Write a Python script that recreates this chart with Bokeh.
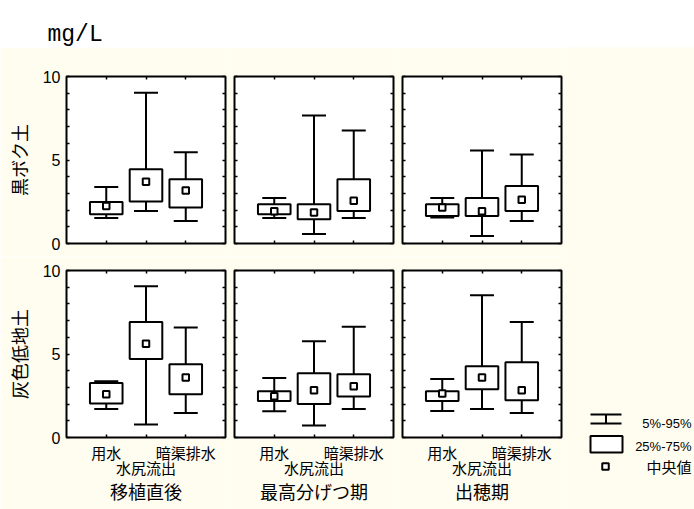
from bokeh.plotting import figure
from bokeh.models import Range1d, FixedTicker, LinearAxis, ColumnDataSource
from bokeh.layouts import row, column
from bokeh.embed import file_html
from bokeh.resources import INLINE
from bokeh.core.properties import value

# ---------------- data ----------------
unit_label = "mg/L"
periods = ["移植直後", "最高分げつ期", "出穂期"]
soils = ["黒ボク土", "灰色低地土"]
sites = ["用水", "水尻流出", "暗渠排水"]
site_pos = [1, 2, 3]

# 黒ボク土 : per period -> values for [用水, 水尻流出, 暗渠排水]
kuro_p95 = [[3.38, 9.03, 5.47], [2.72, 7.67, 6.76], [2.72, 5.57, 5.33]]
kuro_q75 = [[2.48, 4.45, 3.85], [2.35, 2.35, 3.85], [2.35, 2.72, 3.44]]
kuro_med = [[2.24, 3.70, 3.18], [1.93, 1.85, 2.56], [2.15, 1.93, 2.62]]
kuro_q25 = [[1.75, 2.52, 2.15], [1.75, 1.45, 1.95], [1.65, 1.65, 1.95]]
kuro_p5 = [[1.53, 1.95, 1.35], [1.53, 0.57, 1.53], [1.55, 0.45, 1.35]]

# 灰色低地土
kai_p95 = [[3.37, 9.06, 6.59], [3.56, 5.77, 6.63], [3.50, 8.52, 6.91]]
kai_q75 = [[3.27, 6.91, 4.38], [2.77, 3.84, 3.78], [2.77, 4.26, 4.50]]
kai_med = [[2.59, 5.62, 3.59], [2.47, 2.83, 3.07], [2.63, 3.59, 2.83]]
kai_q25 = [[2.03, 4.70, 2.59], [2.19, 2.01, 2.45], [2.19, 2.89, 2.23]]
kai_p5 = [[1.71, 0.78, 1.47], [1.57, 0.72, 1.71], [1.59, 1.71, 1.47]]

y_major = [0, 5, 10]
y_minor = [1, 2, 3, 4, 6, 7, 8, 9]

legend_labels = ["5%-95%", "25%-75%", "中央値"]

# ---------------- style ----------------
BG = "#FFFCF0"
JP = "Noto Sans CJK JP"
NUM = "Liberation Sans"

stats = {
    0: (kuro_p5, kuro_q25, kuro_med, kuro_q75, kuro_p95),
    1: (kai_p5, kai_q25, kai_med, kai_q75, kai_p95),
}


def hidden_axis(ax):
    ax.major_label_text_color = None
    ax.major_label_text_font_size = "1px"
    ax.major_label_standoff = 0
    return ax


def style_axis(ax):
    ax.axis_line_color = None
    ax.major_tick_in = 3
    ax.major_tick_out = 0
    ax.minor_tick_in = 3
    ax.minor_tick_out = 0
    ax.major_tick_line_width = 1.5
    ax.minor_tick_line_width = 1.5
    ax.major_tick_line_color = "black"
    ax.minor_tick_line_color = "black"
    return ax


def make_panel(si, pi):
    first_col = pi == 0
    bottom_row = si == 1
    f = figure(frame_width=159, frame_height=167,
               x_range=Range1d(0, 4), y_range=Range1d(0, 10),
               output_backend="svg", toolbar_location=None, title=None,
               x_axis_location=None, y_axis_location=None,
               min_border_left=66 if first_col else 5, min_border_right=4,
               min_border_top=29 if si == 0 else 14,
               min_border_bottom=13 if si == 0 else 72,
               background_fill_color="white", border_fill_color=BG,
               outline_line_color="black", outline_line_width=2)
    f.grid.visible = False

    p5, q25, med, q75, p95 = (s[pi] for s in stats[si])
    src = ColumnDataSource(dict(x=site_pos, p5=p5, q25=q25, med=med, q75=q75, p95=p95))

    f.segment(x0="x", y0="p5", x1="x", y1="p95", source=src, line_color="black", line_width=2)
    f.scatter(x="x", y="p95", source=src, marker="dash", size=24, line_color="black", line_width=2)
    f.scatter(x="x", y="p5", source=src, marker="dash", size=24, line_color="black", line_width=2)
    f.vbar(x="x", width=0.82, bottom="q25", top="q75", source=src,
           fill_color="white", line_color="black", line_width=2)
    f.scatter(x="x", y="med", source=src, marker="square", size=6.5,
              fill_color="white", line_color="black", line_width=2)

    # left axis
    la = style_axis(LinearAxis(ticker=FixedTicker(ticks=y_major, minor_ticks=y_minor)))
    if first_col:
        la.major_label_text_font = NUM
        la.major_label_text_font_size = "16px"
        la.major_label_text_color = "black"
        la.major_label_standoff = 6
        la.axis_label = soils[si]
        la.axis_label_text_font = JP
        la.axis_label_text_font_size = "18px"
        la.axis_label_text_font_style = "normal"
        la.axis_label_text_color = "black"
        la.axis_label_standoff = 8
    else:
        hidden_axis(la)
    f.add_layout(la, "left")

    ra = hidden_axis(style_axis(LinearAxis(ticker=FixedTicker(ticks=y_major, minor_ticks=y_minor))))
    f.add_layout(ra, "right")

    ta = hidden_axis(style_axis(LinearAxis(ticker=FixedTicker(ticks=site_pos, minor_ticks=[]))))
    f.add_layout(ta, "above")

    ba = style_axis(LinearAxis(ticker=FixedTicker(ticks=site_pos, minor_ticks=[])))
    if bottom_row:
        ba.major_label_overrides = {site_pos[0]: sites[0], site_pos[1]: " ", site_pos[2]: sites[2]}
        ba.major_label_text_font = JP
        ba.major_label_text_font_size = "15px"
        ba.major_label_text_color = "black"
        ba.major_label_standoff = 4
        f.add_layout(ba, "below")
        ba2 = LinearAxis(ticker=FixedTicker(ticks=[site_pos[1]], minor_ticks=[]))
        ba2.axis_line_color = None
        ba2.major_tick_in = 0
        ba2.major_tick_out = 0
        ba2.major_tick_line_color = None
        ba2.minor_tick_line_color = None
        ba2.major_label_overrides = {site_pos[1]: sites[1]}
        ba2.major_label_text_font = JP
        ba2.major_label_text_font_size = "15px"
        ba2.major_label_text_color = "black"
        ba2.major_label_standoff = -9
        ba2.axis_label = periods[pi]
        ba2.axis_label_text_font = JP
        ba2.axis_label_text_font_size = "18px"
        ba2.axis_label_text_font_style = "normal"
        ba2.axis_label_text_color = "black"
        ba2.axis_label_standoff = -3
        f.add_layout(ba2, "below")
    else:
        hidden_axis(ba)
        f.add_layout(ba, "below")
    return f


panels_r1 = [make_panel(0, i) for i in range(3)]
panels_r2 = [make_panel(1, i) for i in range(3)]

# header strip with unit
head = figure(width=694, height=47, x_range=Range1d(0, 694), y_range=Range1d(47, 0),
              output_backend="svg", toolbar_location=None, title=None,
              x_axis_location=None, y_axis_location=None, min_border=0,
              outline_line_color=None, background_fill_color="white", border_fill_color="white")
head.grid.visible = False
head.text(x=[47], y=[34.3], text=[unit_label], text_font=value("Liberation Mono"),
          text_font_size="23px", text_baseline="alphabetic", text_color="black")

# legend panel
leg = figure(width=129, height=462, x_range=Range1d(565, 694), y_range=Range1d(509, 47),
             output_backend="svg", toolbar_location=None, title=None,
             x_axis_location=None, y_axis_location=None, min_border=0,
             outline_line_color=None, background_fill_color=BG, border_fill_color=BG)
leg.grid.visible = False
leg.segment(x0=[590, 590, 605.5], y0=[414, 423, 414], x1=[621, 621, 605.5], y1=[414, 423, 423],
            line_color="black", line_width=2)
leg.quad(left=[590], right=[622], top=[435.5], bottom=[452], fill_color="white",
         line_color="black", line_width=2)
leg.scatter(x=[605], y=[466], marker="square", size=6.5, fill_color="white",
            line_color="black", line_width=2)
leg.text(x=[691, 691], y=[423, 446], text=legend_labels[:2], text_font=value(NUM),
         text_font_size="13px", text_align="right", text_baseline="middle", text_color="black")
leg.text(x=[691], y=[466], text=legend_labels[2:], text_font=value(JP),
         text_font_size="15px", text_align="right", text_baseline="middle", text_color="black")

layout = column(head, row(column(row(*panels_r1), row(*panels_r2)), leg))

open("out.html", "w").write(file_html(layout, INLINE))
